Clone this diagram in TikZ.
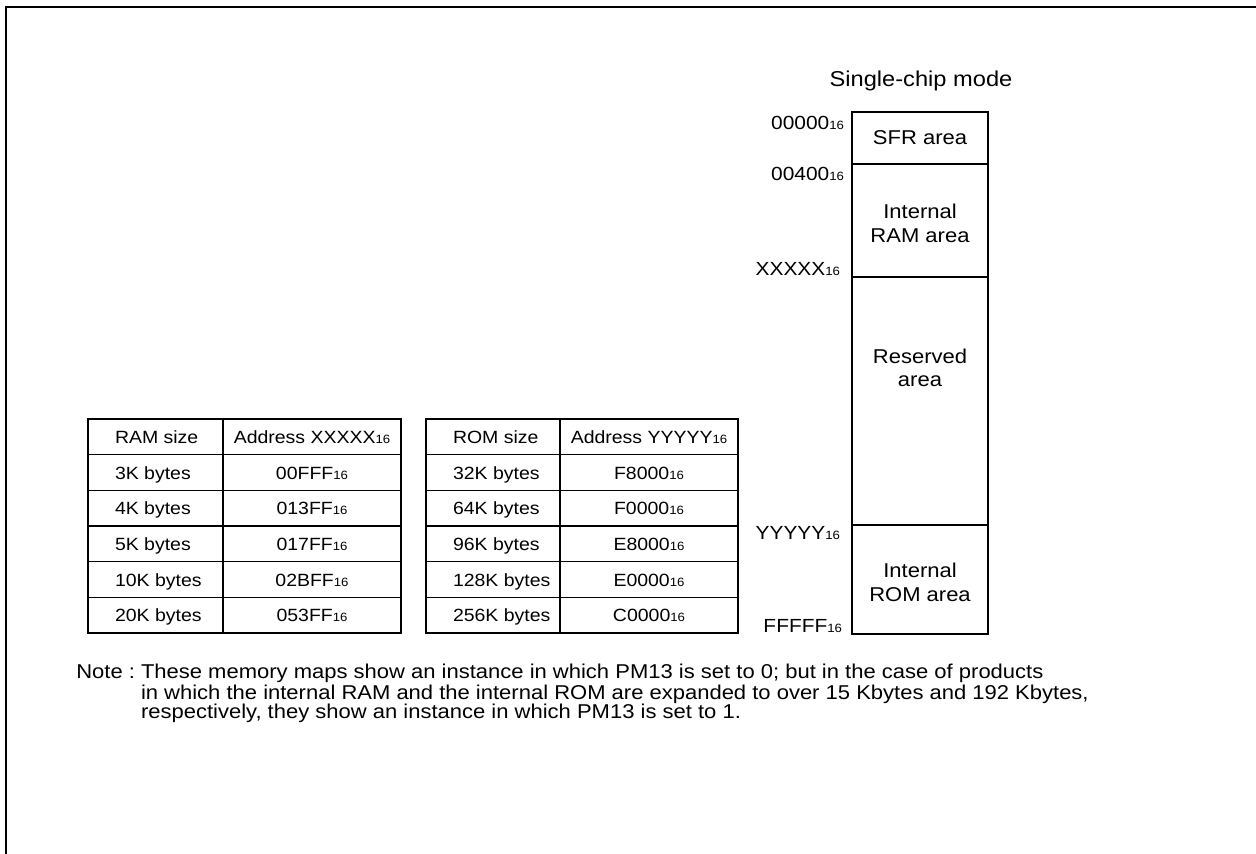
\documentclass[tikz,border=0pt]{standalone}
\usepackage{fontspec}
\setmainfont[FakeStretch=1.1]{Liberation Sans}
\usetikzlibrary{positioning}
\newcommand{\hx}[1]{#1{\fontsize{12}{12}\selectfont 16}}

\begin{document}
\begin{tikzpicture}[x=1pt,y=-1pt,
		every node/.style={inner sep=0pt,outer sep=0pt,font=\fontsize{17.7}{20}\selectfont},
		mapbox/.style={rectangle,draw=black,line width=1.8pt,minimum width=136pt,align=center,font=\fontsize{20}{24}\selectfont},
		cell/.style={rectangle,draw=black,line width=1.5pt,minimum height=35.67pt},
		addr/.style={anchor=base east,font=\fontsize{19}{19}\selectfont},
		notetxt/.style={anchor=base west,font=\fontsize{20}{20}\selectfont}]
		\useasboundingbox (0,0) rectangle (1256,854);
		\draw[line width=2.3pt] (6,854) -- (6,7) -- (1256,7);
		
		% memory map
		\node[anchor=base,font=\fontsize{21.5}{22}\selectfont] (title) at (921,86) {Single-chip mode};
		\node[mapbox,minimum height=52pt,anchor=north] (sfr) at (920,112) {SFR area};
		\node[mapbox,minimum height=113pt,below=0pt of sfr] (ram) {};
		\node[mapbox,minimum height=248pt,below=0pt of ram] (rsv) {};
		\node[mapbox,minimum height=109pt,below=0pt of rsv] (rom) {};
		\node[align=center,font=\fontsize{20}{23.5}\selectfont] (ramtxt) at ([yshift=-3pt]ram.center) {Internal\\RAM area};
		\node[align=center,font=\fontsize{20}{23.5}\selectfont] (rsvtxt) at ([yshift=33pt]rsv.center) {Reserved\\area};
		\node[align=center,font=\fontsize{20}{23.5}\selectfont] (romtxt) at ([yshift=-3pt]rom.center) {Internal\\ROM area};
		
		\node[addr] (a00000) at (844,129) {\hx{00000}};
		\node[addr] (a00400) at (844,180) {\hx{00400}};
		\node[addr] (aXXXXX) at (840,275) {\hx{XXXXX}};
		\node[addr] (aYYYYY) at (840,539) {\hx{YYYYY}};
		\node[addr] (aFFFFF) at (842,632) {\hx{FFFFF}};
		
		% RAM table
		\foreach \r/\s/\a in {0/RAM size/Address \hx{XXXXX},1/3K bytes/\hx{00FFF},2/4K bytes/\hx{013FF},
			3/5K bytes/\hx{017FF},4/10K bytes/\hx{02BFF},5/20K bytes/\hx{053FF}} {
			\node[cell,minimum width=135pt,anchor=north west] (ramS\r) at (88,{419+35.67*\r}) {};
			\node[cell,minimum width=178pt,right=0pt of ramS\r] (ramA\r) {};
			\node[anchor=base west] (ramST\r) at ([xshift=27pt,yshift=-6.5pt]ramS\r.west) {\s};
			\node[anchor=base] (ramAT\r) at ([yshift=-6.5pt]ramA\r.center) {\a};
		}
		
		% ROM table
		\foreach \r/\s/\a in {0/ROM size/Address \hx{YYYYY},1/32K bytes/\hx{F8000},2/64K bytes/\hx{F0000},
			3/96K bytes/\hx{E8000},4/128K bytes/\hx{E0000},5/256K bytes/\hx{C0000}} {
			\node[cell,minimum width=134pt,anchor=north west] (romS\r) at (426,{419+35.67*\r}) {};
			\node[cell,minimum width=178pt,right=0pt of romS\r] (romA\r) {};
			\node[anchor=base west] (romST\r) at ([xshift=27pt,yshift=-6.5pt]romS\r.west) {\s};
			\node[anchor=base] (romAT\r) at ([yshift=-6.5pt]romA\r.center) {\a};
		}
		
		% note
		\node[notetxt] (note1) at (141,678) {These memory maps show an instance in which PM13 is set to 0; but in the case of products};
		\node[notetxt] (note2) at (141,699) {in which the internal RAM and the internal ROM are expanded to over 15 Kbytes and 192 Kbytes,};
		\node[notetxt] (note3) at (141,718) {respectively, they show an instance in which PM13 is set to 1.};
		\node[anchor=base east,font=\fontsize{20}{20}\selectfont] (notehd) at ([xshift=-6pt]note1.base west) {Note :};
	\end{tikzpicture}
\end{document}
